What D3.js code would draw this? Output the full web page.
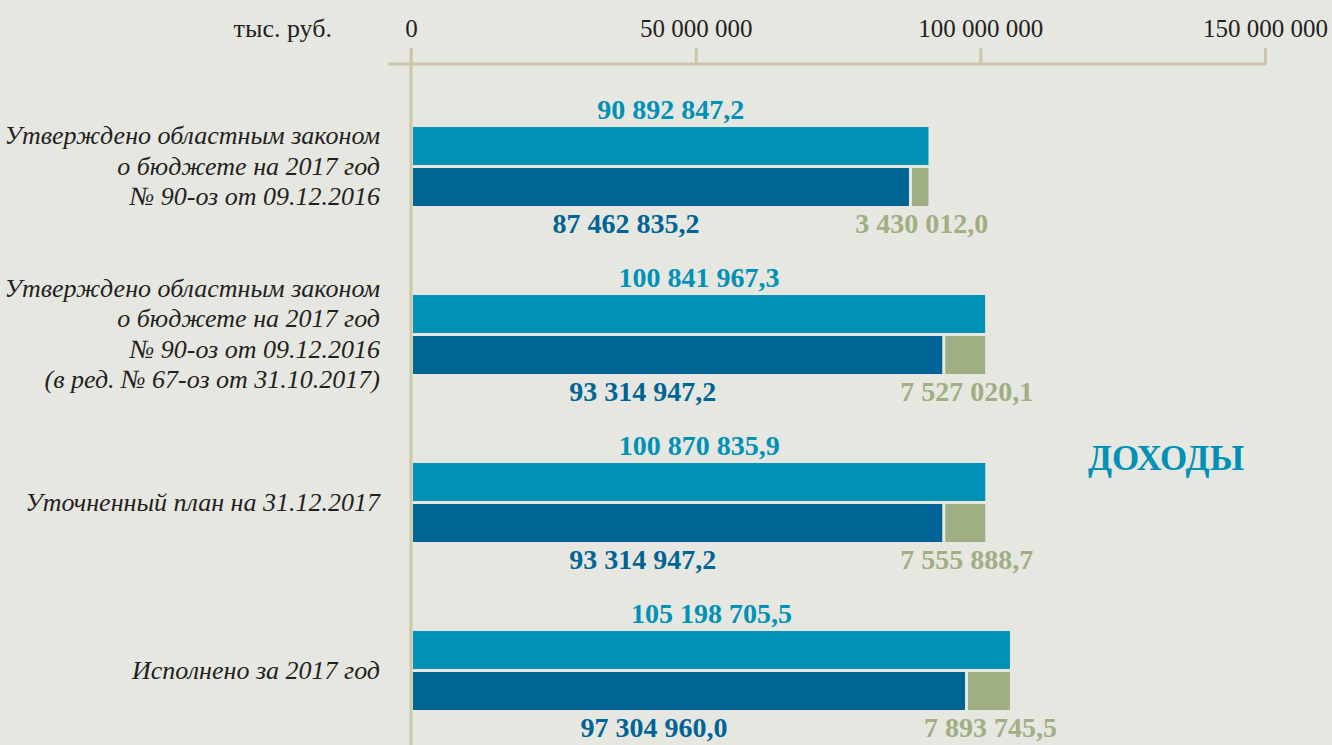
<!DOCTYPE html>
<html>
<head>
<meta charset="utf-8">
<script src="https://cdn.jsdelivr.net/npm/d3@7"></script>
</head>
<body style="margin:0; background:#e7e7e1">
<svg id="chart"></svg>
<script>
const width = 1332, height = 745;

// categories (split into lines as in the picture)
const categories = [
    ["Утверждено областным законом", "о бюджете на 2017 год", "№ 90-оз от 09.12.2016"],
    ["Утверждено областным законом", "о бюджете на 2017 год", "№ 90-оз от 09.12.2016", "(в ред. № 67-оз от 31.10.2017)"],
    ["Уточненный план на 31.12.2017"],
    ["Исполнено за 2017 год"]
];
// thousand rubles
const totalIncome = [90892847.2, 100841967.3, 100870835.9, 105198705.5];
const ownIncome = [87462835.2, 93314947.2, 93314947.2, 97304960.0];
const transfers = [3430012.0, 7527020.1, 7555888.7, 7893745.5];
const tickValues = [0, 50000000, 100000000, 150000000];
const unitLabel = "тыс. руб.";
const title = "ДОХОДЫ";

const colLight = "#0091b6", colDark = "#006595", colGreen = "#a0ae84";
const colAxis = "#cec7a7", colText = "#231f20";
const barH = 38, barGap = 3;
const serif = '"Liberation Serif"';

const ru = d3.formatLocale({decimal: ",", thousands: "\u00a0", grouping: [3], currency: ["", ""]});
const fmtVal = ru.format(",.1f");
const fmtTick = ru.format(",.0f");

const svg = d3.select("#chart").attr("width", width).attr("height", height)
    .style("display", "block");

const x = d3.scaleLinear().domain([0, 150000000]).range([411, 1265]);
const y = d3.scalePoint().domain(d3.range(categories.length)).range([127, 631]);

// axis
const axisG = svg.append("g").attr("transform", "translate(0,64)")
    .call(d3.axisTop(x).tickValues(tickValues).tickSize(16).tickSizeOuter(0).tickFormat(fmtTick));
axisG.select(".domain").remove();
axisG.selectAll(".tick line").attr("stroke", colAxis).attr("stroke-width", 3);
axisG.selectAll(".tick text")
    .attr("y", -27)
    .style("font-family", serif)
    .style("font-size", "25px")
    .attr("fill", colText);

svg.append("line")
    .attr("x1", 388).attr("x2", x(150000000) + 1.5)
    .attr("y1", 64).attr("y2", 64)
    .attr("stroke", colAxis).attr("stroke-width", 3);
svg.append("line")
    .attr("x1", x(0)).attr("x2", x(0))
    .attr("y1", 48).attr("y2", height)
    .attr("stroke", colAxis).attr("stroke-width", 3);

svg.append("text")
    .attr("x", 332).attr("y", 37)
    .attr("text-anchor", "end")
    .style("font-family", serif)
    .style("font-size", "26px")
    .attr("fill", colText)
    .text(unitLabel);

const groups = svg.selectAll("g.grp")
    .data(categories.map((c, i) => i))
    .enter().append("g").attr("class", "grp");

const x0 = x(0) + 2;

// total bar
groups.append("rect")
    .attr("x", x0)
    .attr("y", i => y(i))
    .attr("width", i => x(totalIncome[i]) - x0)
    .attr("height", barH)
    .attr("fill", colLight);

// own income
groups.append("rect")
    .attr("x", x0)
    .attr("y", i => y(i) + barH + barGap)
    .attr("width", i => x(ownIncome[i]) - x0)
    .attr("height", barH)
    .attr("fill", colDark);

// transfers
groups.append("rect")
    .attr("x", i => x(ownIncome[i]) + 3)
    .attr("y", i => y(i) + barH + barGap)
    .attr("width", i => x(ownIncome[i] + transfers[i]) - x(ownIncome[i]) - 3)
    .attr("height", barH)
    .attr("fill", colGreen);

const valFont = g => g.style("font-family", serif)
    .style("font-size", "28px").style("font-weight", "bold")
    .attr("text-anchor", "middle");

groups.append("text")
    .attr("x", i => (x0 + x(totalIncome[i])) / 2)
    .attr("y", i => y(i) - 8)
    .attr("fill", colLight)
    .call(valFont)
    .text(i => fmtVal(totalIncome[i]));

groups.append("text")
    .attr("x", i => (x0 + x(ownIncome[i])) / 2 - 35)
    .attr("y", i => y(i) + 2 * barH + barGap + 27)
    .attr("fill", colDark)
    .call(valFont)
    .text(i => fmtVal(ownIncome[i]));

groups.append("text")
    .attr("x", i => (x(ownIncome[i]) + x(ownIncome[i] + transfers[i])) / 2 + 3)
    .attr("y", i => y(i) + 2 * barH + barGap + 27)
    .attr("fill", colGreen)
    .call(valFont)
    .text(i => fmtVal(transfers[i]));

// category labels
const lineH = 30.5;
groups.append("text")
    .attr("text-anchor", "end")
    .style("font-family", serif)
    .style("font-size", "26px")
    .style("font-style", "italic")
    .attr("fill", colText)
    .each(function(i) {
        const lines = categories[i];
        const mid = y(i) + barH + barGap / 2 + 8;
        const start = mid - (lines.length - 1) * lineH / 2;
        d3.select(this).selectAll("tspan")
            .data(lines)
            .enter().append("tspan")
            .attr("x", 380)
            .attr("y", (d, k) => start + k * lineH)
            .text(d => d);
    });

svg.append("text")
    .attr("x", 1244).attr("y", 470)
    .attr("text-anchor", "end")
    .style("font-family", serif)
    .style("font-size", "35px")
    .style("font-weight", "bold")
    .attr("fill", colLight)
    .text(title);
</script>
</body>
</html>
